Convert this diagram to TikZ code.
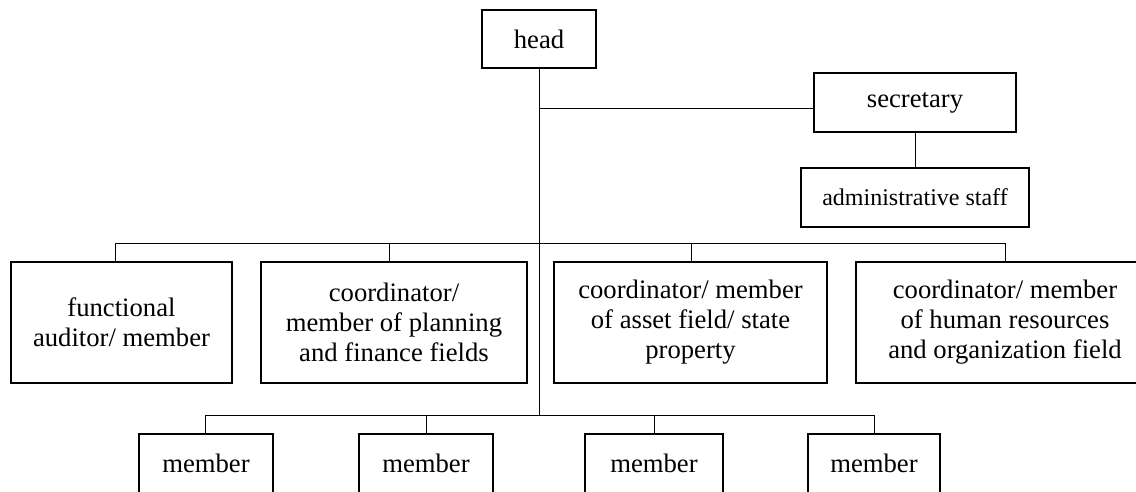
\documentclass[tikz,border=0pt]{standalone}
\usepackage{fontspec}
\setmainfont{Liberation Serif}
\begin{document}
\begin{tikzpicture}[x=0.75pt,y=-0.75pt,
  box/.style={draw, line width=2pt, inner sep=0pt, align=center,
    font=\fontsize{20}{22.5}\selectfont},
  conn/.style={line width=0.6pt}]
\useasboundingbox (0,0) rectangle (1136,492);
% nodes
\node[box, minimum width=114*0.75pt, minimum height=58*0.75pt] (head) at (539,39) {head};
\node[box, minimum width=202*0.75pt, minimum height=59*0.75pt] (sec) at (915,102.5) {secretary};
\node[box, minimum width=228*0.75pt, minimum height=59*0.75pt, font=\fontsize{18}{21}\selectfont] (adm) at (915,197.5) {administrative staff};
\node[box, minimum width=221*0.75pt, minimum height=121*0.75pt] (b1) at (121.5,322.5) {functional\\auditor/ member};
\node[box, minimum width=266*0.75pt, minimum height=121*0.75pt] (b2) at (394,322.5) {coordinator/\\member of planning\\and finance fields};
\node[box, minimum width=273*0.75pt, minimum height=121*0.75pt] (b3) at (690.5,322.5) {coordinator/ member\\of asset field/ state\\property};
\node[box, minimum width=298*0.75pt, minimum height=121*0.75pt] (b4) at (1005,322.5) {coordinator/ member\\of human resources\\and organization field};
\node[box, minimum width=134*0.75pt, minimum height=59*0.75pt] (m1) at (206,463.5) {member};
\node[box, minimum width=134*0.75pt, minimum height=59*0.75pt] (m2) at (426,463.5) {member};
\node[box, minimum width=138*0.75pt, minimum height=59*0.75pt] (m3) at (654,463.5) {member};
\node[box, minimum width=132*0.75pt, minimum height=59*0.75pt] (m4) at (874,463.5) {member};
% junction coordinates
\coordinate (sb) at (539,108);
\coordinate (mb) at (539,415);
\coordinate (t1) at (115,243);
\coordinate (t2) at (389,243);
\coordinate (t3) at (691,243);
\coordinate (t4) at (1005,243);
\coordinate (u1) at (205,415);
\coordinate (u2) at (426,415);
\coordinate (u3) at (654,415);
\coordinate (u4) at (874,415);
% connectors
\draw[conn] (head.south) -- (mb);
\draw[conn] (sb) -- (sb -| sec.west);
\draw[conn] (sec.south) -- (adm.north);
\draw[conn] (t1) -- (t4);
\draw[conn] (t1) -- (t1 |- b1.north);
\draw[conn] (t2) -- (t2 |- b2.north);
\draw[conn] (t3) -- (t3 |- b3.north);
\draw[conn] (t4) -- (t4 |- b4.north);
\draw[conn] (u1) -- (u4);
\draw[conn] (u1) -- (u1 |- m1.north);
\draw[conn] (u2) -- (u2 |- m2.north);
\draw[conn] (u3) -- (u3 |- m3.north);
\draw[conn] (u4) -- (u4 |- m4.north);
\end{tikzpicture}
\end{document}
